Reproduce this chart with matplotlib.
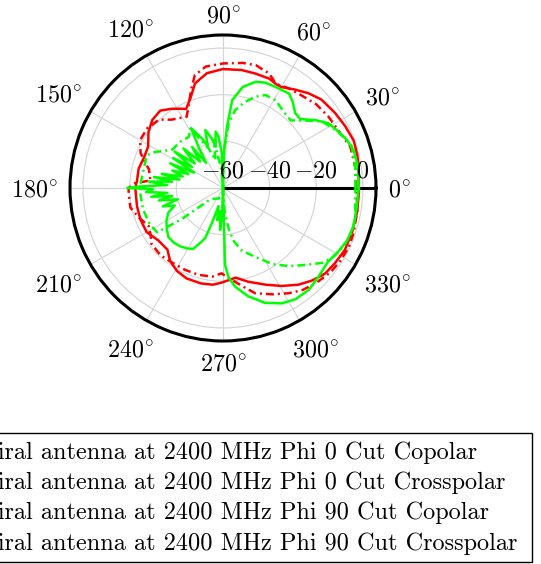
import numpy as np
import matplotlib
matplotlib.use("Agg")
import matplotlib.pyplot as plt
from matplotlib.patches import Rectangle

plt.rcParams['mathtext.fontset'] = 'cm'

# ---------------- data (angle in degrees, gain in dB) ----------------
phi0_co_ang = [0, 9, 14, 20, 27, 34, 42, 48, 54, 60, 63, 67, 74, 81, 90, 98, 105, 110, 115,
               118, 123, 129, 136, 143, 151, 159, 167, 175, 180, 192, 201, 210, 219, 228, 234,
               241, 248, 257, 264, 269, 274, 278, 285, 294, 301, 308, 314, 320, 326, 333, 341,
               350, 358, 360]
phi0_co_db = [-1.8, -1.1, -0.7, -0.4, -1.3, -2.2, -3.3, -5.3, -7.8, -10.0, -10.0, -9.1, -9.0,
              -8.8, -9.0, -10.3, -13.6, -19.1, -22.6, -21.5, -19.5, -17.3, -17.9, -20.0, -23.3,
              -23.7, -22.9, -23.0, -22.4, -22.3, -22.1, -22.2, -24.3, -24.4, -21.4, -19.3, -18.2,
              -18.0, -18.3, -19.4, -20.5, -21.2, -18.4, -14.6, -11.0, -7.4, -4.9, -2.9, -2.2,
              -1.4, -1.5, -1.6, -1.7, -1.8]

phi0_cx_ang = [0, 9, 18, 25, 34, 42, 50, 57, 63, 68, 75, 81, 90, 98, 104, 108, 113, 117, 127,
               133, 142, 150, 157, 162, 166, 174, 177, 180, 184, 192, 200, 207, 213, 218, 227,
               236, 245, 254, 263, 269, 275, 281, 287, 295, 302, 308, 315, 322, 328, 335, 341,
               350, 358, 360]
phi0_cx_db = [-3.0, -2.6, -2.6, -4.5, -5.4, -6.3, -8.0, -8.9, -9.9, -7.1, -5.5, -5.7, -6.6,
              -7.4, -10.1, -15.7, -22.1, -25.7, -23.3, -19.9, -18.6, -19.0, -21.6, -25.0, -27.3,
              -28.7, -22.0, -19.5, -19.5, -19.4, -22.0, -24.2, -23.0, -21.1, -20.6, -21.3, -21.3,
              -21.3, -21.7, -23.4, -20.7, -17.2, -12.8, -9.7, -6.8, -4.5, -2.9, -1.4, -0.8, -0.4,
              -0.8, -1.6, -2.6, -3.0]

phi90_co_ang = [0, 9, 16, 21, 26, 31.5, 36.4, 41.7, 46, 51, 55, 61, 68, 73, 79, 84, 86.3, 88.5,
                89.5, 90, 92, 95, 97.5, 100, 103, 107, 110, 113, 118, 121, 124, 127, 131, 135,
                139, 143, 146, 149, 152, 155, 158, 161, 164, 167, 169, 171, 173, 175, 177, 179,
                180, 181, 183, 185, 187, 189, 191, 194, 197, 200, 204, 210, 216, 222, 228, 234,
                240, 244, 248, 250.5, 252.5, 256, 260, 263, 266, 268, 270, 270.8, 271.5, 273.6,
                277, 283, 290, 297, 303, 310, 317, 325, 331, 337, 344, 352, 360]
phi90_co_db = [-1.8, -1.4, -1.7, -3.0, -4.9, -6.9, -10.9, -15.6, -15.4, -12.5, -10.6, -11.1,
               -11.3, -12.4, -15.9, -22.1, -33.7, -45.0, -55.0, -60.0, -45.0, -38.0, -35.6, -42.0,
               -38.0, -34.0, -41.0, -37.0, -31.0, -40.0, -47.0, -38.0, -45.0, -36.0, -44.0, -34.0,
               -44.0, -35.0, -46.0, -35.0, -44.0, -37.0, -42.0, -33.0, -41.0, -30.0, -38.0, -28.0,
               -36.0, -24.0, -19.0, -30.0, -27.0, -36.0, -29.0, -38.0, -32.0, -40.0, -33.0, -38.0,
               -34.4, -32.0, -30.2, -28.5, -28.5, -29.0, -30.0, -31.0, -35.0, -37.4, -44.4, -52.0,
               -46.0, -50.0, -42.0, -48.0, -60.0, -60.0, -27.0, -21.5, -17.4, -12.4, -7.6, -4.5,
               -3.1, -2.9, -4.1, -5.0, -3.6, -2.2, -1.7, -2.1, -1.8]

phi90_cx_ang = [0, 9, 18, 23, 28, 34, 38, 45, 51.5, 59, 65.5, 70.5, 75.5, 81, 85, 87.5, 89, 90,
                95, 101, 105, 110, 118.7, 123.8, 133, 143, 152, 156.5, 166, 177, 185, 195, 205,
                210, 214, 217, 221, 230, 245, 255, 265, 270, 274, 278, 281.4, 287, 295, 303, 310,
                317, 323, 328, 334, 341, 348, 356, 360]
phi90_cx_db = [-3.2, -2.6, -2.0, -3.8, -6.1, -8.9, -13.1, -19.0, -18.2, -16.1, -16.2, -18.5,
               -21.8, -26.1, -32.1, -42.0, -55.0, -60.0, -52.0, -39.0, -47.6, -42.0, -30.9, -33.6,
               -33.0, -32.7, -27.1, -24.5, -25.0, -24.6, -24.5, -24.5, -25.0, -25.5, -26.0, -38.0,
               -52.0, -54.0, -55.0, -56.0, -57.0, -60.0, -50.0, -42.1, -36.8, -31.8, -27.5, -21.1,
               -16.3, -11.6, -6.7, -4.2, -2.6, -1.5, -2.0, -3.2, -3.2]

legend_labels = ["Spiral antenna at 2400 MHz Phi 0 Cut Copolar",
                 "Spiral antenna at 2400 MHz Phi 0 Cut Crosspolar",
                 "Spiral antenna at 2400 MHz Phi 90 Cut Copolar",
                 "Spiral antenna at 2400 MHz Phi 90 Cut Crosspolar"]
theta_ticks = list(range(0, 360, 30))
r_ticks = [-60, -40, -20, 0]
r_min, r_max = -60, 5.6

# ---------------- figure ----------------
W, H = 541, 564
fig = plt.figure(figsize=(W / 100, H / 100), dpi=100)
cx, cy, R = 223, 188, 153
ax = fig.add_axes([(cx - R) / W, (H - cy - R) / H, 2 * R / W, 2 * R / H], projection='polar')
ax.set_rlim(r_min, r_max)
ax.set_thetagrids(theta_ticks, labels=[''] * len(theta_ticks))
ax.set_rgrids([-40, -20, 0], labels=[''] * 3)
ax.grid(True, color='#d3d3d3', lw=0.8, zorder=1)
ax.spines['polar'].set_color('black')
ax.spines['polar'].set_linewidth(2.2)
ax.tick_params(length=0)

ax.plot([0, 0], [r_min, r_max], color='black', lw=2.2, zorder=2.9)

dashdot = (0, (3.2, 1.6, 0.8, 1.6))
lw = 1.8
series = [
    (phi0_co_ang, phi0_co_db, 'red', '-'),
    (phi0_cx_ang, phi0_cx_db, 'red', dashdot),
    (phi90_co_ang, phi90_co_db, '#00ff00', '-'),
    (phi90_cx_ang, phi90_cx_db, '#00ff00', dashdot),
]
handles = []
for (a, d, c, ls), lab in zip(series, legend_labels):
    h, = ax.plot(np.deg2rad(a), d, color=c, ls=ls, lw=lw, label=lab, zorder=3)
    handles.append(h)

fs = 17.3
# radial labels
for rv in r_ticks:
    lab = r'$%d$' % rv
    ax.annotate(lab, xy=(0, rv), xycoords='data', xytext=(0, 10), textcoords='offset pixels',
                ha='center', va='baseline', fontsize=fs, zorder=4)

# angular labels
fig.canvas.draw()
renderer = fig.canvas.get_renderer()
gap = 12
for ang in theta_ticks:
    t = ax.annotate(r'$%d^{\circ}$' % ang, xy=(np.deg2rad(ang), r_max), xycoords='data',
                    xytext=(0, 0), textcoords='offset pixels', ha='center', va='center',
                    fontsize=fs, annotation_clip=False)
    bb = t.get_window_extent(renderer)
    w2, h2 = bb.width / 2, bb.height / 2
    c, s = np.cos(np.deg2rad(ang)), np.sin(np.deg2rad(ang))
    dd = gap + w2 * abs(c) + 0.75 * h2 * abs(s)
    t.xyann = (dd * c, dd * s - 2.5)

fs_leg = 17.45
leg = fig.legend(handles=handles, labels=legend_labels, loc='upper right',
                 bbox_to_anchor=(517 / W, 1 - 441 / H), prop={'family': 'cmr10', 'size': fs_leg},
                 frameon=False, borderpad=0, borderaxespad=0, labelspacing=0.33,
                 handlelength=2.0)
fig.add_artist(Rectangle((-0.02, 1 - 562 / H), 532 / W + 0.02, 129 / H,
                         transform=fig.transFigure, fill=False, edgecolor='black', lw=1.0,
                         clip_on=False))

fig.savefig('out.png', dpi=100)
